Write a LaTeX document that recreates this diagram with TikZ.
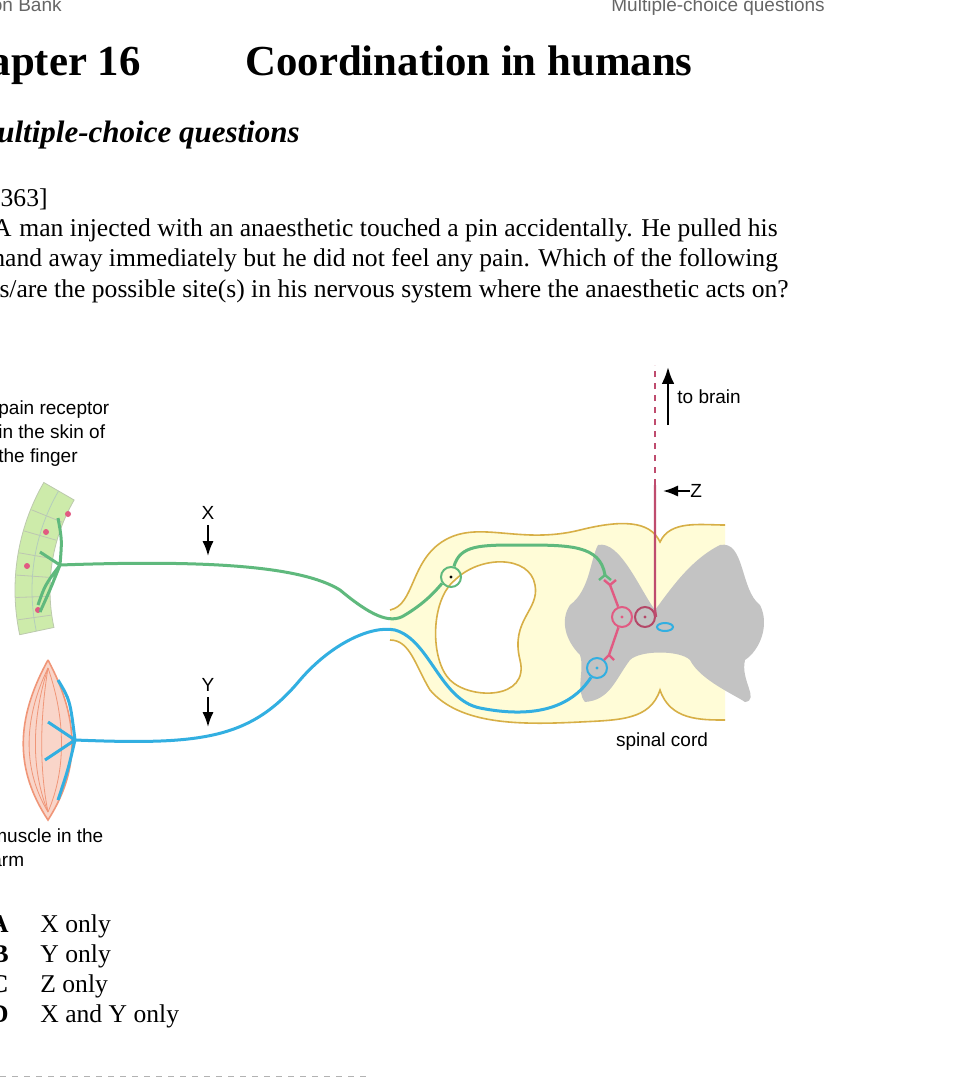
\documentclass[tikz,border=0pt]{standalone}
\usepackage{fontspec}
\setmainfont{Liberation Serif}
\setsansfont{Liberation Sans}
\usepackage{tikz}
\usetikzlibrary{arrows.meta}
\definecolor{nervegreen}{RGB}{95,185,125}
\definecolor{nerveblue}{RGB}{50,175,225}
\definecolor{nervepink}{RGB}{225,90,130}
\definecolor{cordline}{RGB}{215,175,70}
\definecolor{cordfill}{RGB}{255,252,215}
\definecolor{greymatter}{RGB}{195,195,195}
\definecolor{skin}{RGB}{205,235,170}
\definecolor{musc}{RGB}{240,150,120}
\tikzset{lbl/.style={font=\sffamily\fontsize{9.5}{12}\selectfont,inner sep=0pt},
  body/.style={font=\fontsize{12.8}{15}\selectfont,inner sep=0pt,anchor=base west},
  cell/.style={circle,draw,line width=1pt,minimum size=10pt,inner sep=0pt}}
\def\DOT#1{\fill (#1) circle (1.6);}
\begin{document}
\begin{tikzpicture}[x=0.5pt,y=-0.5pt]
\useasboundingbox (0,0) rectangle (973,1080);
\fill[white] (0,0) rectangle (973,1080);
% page text
\node[lbl,gray!80!black,anchor=base east] (hdl) at (62,12) {Question Bank};
\node[lbl,gray!80!black,anchor=base west] (hdr) at (611,12) {Multiple-choice questions};
\node[font=\bfseries\fontsize{21.4}{25}\selectfont,inner sep=0pt,anchor=base east] (chap) at (141,76) {Chapter 16};
\node[font=\bfseries\fontsize{21.4}{25}\selectfont,inner sep=0pt,anchor=base west] (title) at (245,76) {Coordination in humans};
\node[font=\bfseries\itshape\fontsize{15.5}{18}\selectfont,inner sep=0pt,anchor=base east] (mcq) at (300,143) {Multiple-choice questions};
\node[body,anchor=base east] (qno) at (48,207) {[8363]};
\node[body,anchor=base east] (qa) at (12,237) {A};
\node[body] (q1) at (19,237) {man injected with an anaesthetic touched a pin accidentally. He pulled his};
\node[body] (q2) at (-8,267) {hand away immediately but he did not feel any pain. Which of the following};
\node[body] (q3) at (-8,298) {is/are the possible site(s) in his nervous system where the anaesthetic acts on?};
% options
\foreach \l/\t/\y in {A/X only/932,B/Y only/962,C/Z only/992,D/X and Y only/1022}{
  \node[body,font=\bfseries\fontsize{12.8}{15}\selectfont,anchor=base east] (opt\l) at (9,\y) {\l};
  \node[body] (txt\l) at (40,\y) {\t};}
\draw[gray!60,dashed] (0,1076) -- (370,1076);
% labels
\node[lbl,align=left,anchor=north west] (rec) at (-2,400) {pain receptor\\ in the skin of\\ the finger};
\node[lbl,align=left,anchor=north west] (mus) at (-9,828) {muscle in the\\ arm};
\node[lbl] (sc) at (662,742) {spinal cord};
% skin
\fill[skin,draw=skin!70!black!60] (230,590) ++(210:215) arc (210:168:215) -- ([shift={(230,590)}]168:180) arc (168:210:180) -- cycle;
\foreach \a in {172,178,...,206} \draw[skin!60!black!50] ([shift={(230,590)}]\a:181) -- ([shift={(230,590)}]\a:214);
\draw[nervegreen!70!black!40] (230,590) ++(210:198) arc (210:168:198);
\fill[nervepink] \foreach \p in {(68,514),(46,532),(27,566),(38,610)} {\p circle (3)};
% muscle
\fill[musc!40,draw=musc,line width=0.8pt] (48,660) .. controls (15,720) and (15,770) .. (48,820) .. controls (80,770) and (80,720) .. (48,660);
\foreach \w in {6,12,18} \draw[musc] (48,668) .. controls (48-\w*1.4,720) and (48-\w*1.4,770) .. (48,812);
\draw[musc] (48,668) .. controls (66,720) and (66,770) .. (48,812);
% cord white matter
\fill[cordfill] (390,610) .. controls (415,605) and (410,560) .. (445,540)
  .. controls (480,520) and (520,545) .. (580,530) .. controls (620,520) and (650,520) .. (660,542)
  .. controls (670,520) and (700,525) .. (725,525) -- (725,720) .. controls (700,720) and (670,720) .. (660,690)
  .. controls (650,720) and (620,720) .. (580,722) .. controls (520,725) and (460,725) .. (430,690)
  .. controls (415,665) and (410,640) .. (390,640) -- cycle;
\draw[cordline,line width=0.8pt] (390,610) .. controls (415,605) and (410,560) .. (445,540)
  .. controls (480,520) and (520,545) .. (580,530) .. controls (620,520) and (650,520) .. (660,542)
  .. controls (670,520) and (700,525) .. (725,525);
\draw[cordline,line width=0.8pt] (725,720) .. controls (700,720) and (670,720) .. (660,690)
  .. controls (650,720) and (620,720) .. (580,722) .. controls (520,725) and (460,725) .. (430,690)
  .. controls (415,665) and (410,640) .. (390,640);
\fill[white,draw=cordline,line width=0.8pt] (455,580) .. controls (480,555) and (530,555) .. (535,585)
  .. controls (540,610) and (510,620) .. (520,660) .. controls (530,700) and (470,700) .. (450,680)
  .. controls (430,660) and (430,600) .. (455,580) -- cycle;
% grey matter
\fill[greymatter] (598,545) .. controls (620,540) and (640,590) .. (655,610) .. controls (670,590) and (690,560) .. (720,545)
  .. controls (745,540) and (740,590) .. (760,605) .. controls (770,625) and (760,650) .. (745,660)
  .. controls (740,680) and (760,700) .. (745,702) .. controls (735,695) and (700,680) .. (690,660)
  .. controls (680,650) and (640,650) .. (630,660) .. controls (615,680) and (610,700) .. (585,702)
  .. controls (575,690) and (585,670) .. (580,655) .. controls (565,640) and (560,620) .. (570,605)
  .. controls (590,590) and (590,560) .. (598,545) -- cycle;
% nerves
\coordinate (skn) at (60,565);
\coordinate (msn) at (75,740);
\node[cell,draw=nervegreen] (gang) at (451,577) {}; \DOT{gang}
\node[cell,draw=nerveblue] (mot) at (597,668) {}; \fill[nerveblue] (mot) circle (1.6);
\node[cell,draw=nervepink] (int) at (622,617) {}; \fill[nervepink] (int) circle (1.6);
\node[cell,draw=nervepink!80!black] (rel) at (645,617) {}; \fill[nervepink!80!black] (rel) circle (1.6);
\draw[nerveblue,line width=1pt] (665,627) ellipse (8 and 4);
\draw[nervegreen,line width=1.5pt] (skn) .. controls (45,585) .. (38,605) (skn) -- (40,552) (skn) .. controls (62,540) .. (58,518) (skn) .. controls (50,590) .. (40,612);
\draw[nervegreen,line width=1.5pt] (skn) .. controls (200,560) and (300,565) .. (340,590) .. controls (370,615) and (390,625) .. (405,615)
  .. controls (430,600) and (440,585) .. (gang) .. controls (460,545) and (480,545) .. (520,545) .. controls (570,545) and (600,545) .. (605,575);
\draw[nervegreen,line width=1.2pt] (599,580) -- (605,575) -- (611,580);
\draw[nerveblue,line width=1.5pt] (msn) .. controls (70,700) .. (58,680) (msn) -- (48,722) (msn) -- (45,760) (msn) .. controls (68,770) .. (58,800);
\draw[nerveblue,line width=1.5pt] (msn) .. controls (200,745) and (250,740) .. (300,680) .. controls (330,645) and (370,625) .. (395,630)
  .. controls (430,640) and (440,700) .. (480,708) .. controls (530,718) and (570,710) .. (mot);
\draw[nervepink,line width=1.2pt] (610,585) -- (int) -- (609,655) (604,580) -- (610,585) -- (616,580) (604,660) -- (609,655) -- (614,660);
\draw[nervepink!85!black,line width=1.2pt] (rel.east) -- (655,610) -- (655,485);
\draw[nervepink!85!black,line width=1.2pt,dashed] (655,485) -- (655,365);
% arrows
\draw[-{Latex},line width=1.2pt] (668,425) -- (668,367);
\node[lbl,anchor=west] (brain) at (677,397) {to brain};
\node[lbl,anchor=west] (zl) at (690,491) {Z};
\draw[-{Latex},line width=1pt] (zl.west) -- (663,491);
\node[lbl] (xl) at (208,513) {X};
\draw[-{Latex},line width=1pt] (xl.south) ++(0,5) -- (208,556);
\node[lbl] (yl) at (208,685) {Y};
\draw[-{Latex},line width=1pt] (yl.south) ++(0,5) -- (208,727);
\end{tikzpicture}
\end{document}
